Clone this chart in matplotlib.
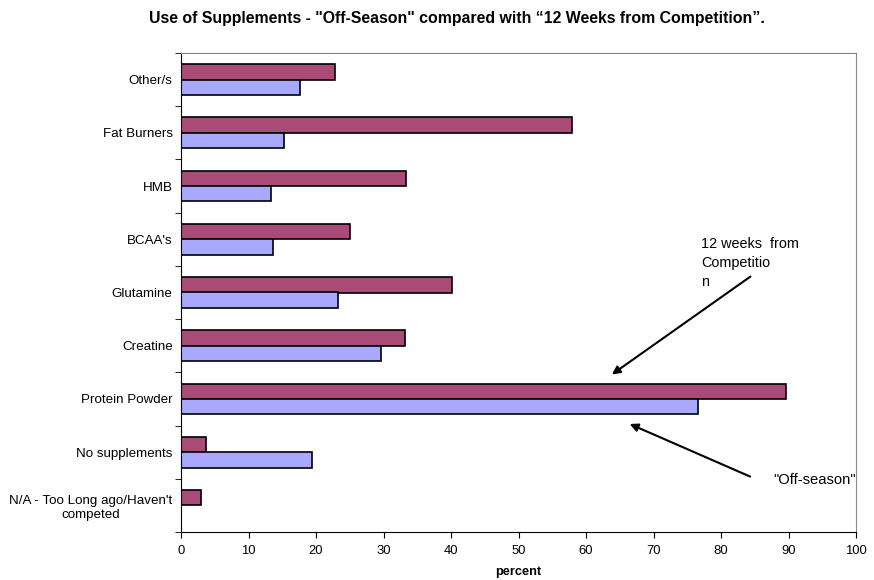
import numpy as np
import matplotlib
matplotlib.use("Agg")
import matplotlib.pyplot as plt

plt.rcParams['font.family'] = ['Liberation Sans', 'DejaVu Sans']

# categorias de abajo hacia arriba
categorias = ["N/A - Too Long ago/Haven't\ncompeted", "No supplements", "Protein Powder",
              "Creatine", "Glutamine", "BCAA's", "HMB", "Fat Burners", "Other/s"]
semanas_12 = [2.9, 3.7, 89.7, 33.2, 40.1, 25.0, 33.4, 57.9, 22.8]
off_season = [0.0, 19.4, 76.6, 29.7, 23.2, 13.7, 13.4, 15.3, 17.7]
ticks_x = [0, 10, 20, 30, 40, 50, 60, 70, 80, 90, 100]

color_12 = '#A84B76'
color_off = '#A8A8FF'

fig = plt.figure(figsize=(8.74, 5.8), dpi=100)
ax = fig.add_axes([181/874, 1-532/580, (856-181)/874, (532-53)/580])

y = np.arange(len(categorias))
h = 0.29
ax.barh(y + h/2, semanas_12, height=h, color=color_12, edgecolor='black', linewidth=1.2)
ax.barh(y - h/2, off_season, height=h, color=color_off, edgecolor='black', linewidth=1.2)

ax.set_xlim(0, 100)
ax.set_ylim(-0.5, len(categorias) - 0.5)
ax.set_xticks(ticks_x)
ax.set_yticks(y)
ax.set_yticklabels(categorias, fontsize=9.6, multialignment='center', linespacing=1.2)
ax.set_yticks(np.arange(len(categorias) + 1) - 0.5, minor=True)
ax.tick_params(axis='y', which='major', length=0, pad=6)
ax.tick_params(axis='y', which='minor', length=4, direction='out')
ax.tick_params(axis='x', labelsize=9.4, length=4, direction='out', pad=5)

for s in ['top', 'right']:
    ax.spines[s].set_color('#888888')
for s in ['left', 'bottom']:
    ax.spines[s].set_color('black')

ax.set_xlabel('percent', fontsize=9.2, fontweight='bold', labelpad=7)

fig.text(457/874, 1-18/580,
         'Use of Supplements - "Off-Season" compared with \u201c12 Weeks from Competition\u201d.',
         ha='center', va='center', fontsize=11.4, fontweight='bold')

# flechas
ax.annotate('', xy=(63.5, 2.43), xytext=(84.7, 4.33),
            arrowprops=dict(arrowstyle='-|>', color='black', lw=1.5, mutation_scale=12))
ax.annotate('', xy=(66.1, 1.55), xytext=(84.7, 0.52),
            arrowprops=dict(arrowstyle='-|>', color='black', lw=1.5, mutation_scale=12))

fig.text(701/874, 1-263/580, '12 weeks  from\nCompetitio\nn', ha='left', va='center',
         fontsize=10.4, linespacing=1.45)
fig.text(773/874, 1-480/580, '"Off-season"', ha='left', va='center', fontsize=10.6)

fig.savefig('out.png', dpi=100)
